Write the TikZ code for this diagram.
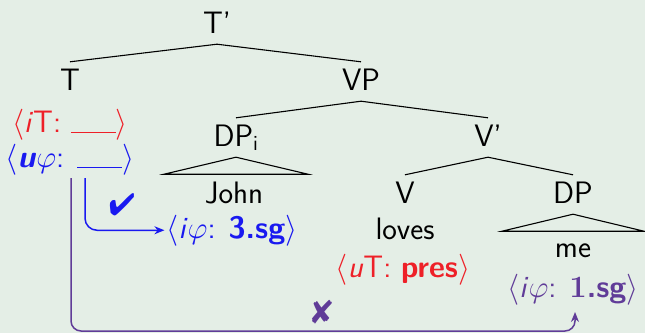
\RequirePackage{fix-cm}
\documentclass[tikz,border=0pt]{standalone}
\usepackage{fontspec}
\usepackage{pifont}
\usetikzlibrary{arrows.meta,calc}
\definecolor{bgc}{RGB}{228,238,230}
\definecolor{fred}{RGB}{238,32,40}
\definecolor{fblue}{RGB}{25,25,240}
\definecolor{fpurp}{RGB}{96,60,152}
\newcommand{\featblank}{\rule[-1pt]{45pt}{1.4pt}}
\begin{document}
\begin{tikzpicture}[x=1pt,y=-1pt,
  every node/.style={inner sep=0pt,anchor=base,font=\fontsize{31}{37}\selectfont\sffamily},
  cat/.style={text height=28pt,text depth=11pt},
  edge/.style={line width=1.1pt},
  link/.style={line width=1.5pt},
  tip/.style={-{Stealth[length=10pt,width=8pt]}},
]
\fill[bgc] (0,0) rectangle (645,333);
\useasboundingbox (0,0) rectangle (645,333);

% category labels
\node[cat] (Tp) at (217,33) {T’};
\node[cat] (T) at (70,90) {T};
\node[cat] (VP) at (361,90) {VP};
\node[cat] (DPi) at (236,146) {DP\textsubscript{i}};
\node[cat] (Vb) at (488,146) {V’};
\node[cat] (V) at (405,203) {V};
\node[cat] (DP) at (573,203) {DP};

% words
\node (John) at (234,203) {John};
\node (loves) at (405,239) {loves};
\node (me) at (573,257) {me};

% features
\node[text=fred] (iT) at (70,132) {$\langle$\textit{i}T: \featblank$\rangle$};
\node[text=fblue] (uphi) at (70,167) {$\langle$\textbf{\textit{u}}$\varphi$: \featblank$\rangle$};
\node[text=fblue] (iphi3) at (232,238) {$\langle$\textit{i}$\varphi$: \textbf{3.sg}$\rangle$};
\node[text=fred] (uT) at (403,277) {$\langle$\textit{u}T: \textbf{pres}$\rangle$};
\node[text=fpurp] (iphi1) at (573,297) {$\langle$\textit{i}$\varphi$: \textbf{{\rmfamily 1}.sg}$\rangle$};

% marks
\node[text=fblue,anchor=center,font=\fontsize{31}{36}\selectfont] (check) at (122,205) {\ding{52}};
\node[text=fpurp,anchor=center,font=\fontsize{33}{38}\selectfont] (cross) at (322,312) {\ding{56}};

% tree edges
\draw[edge] (Tp.south) -- (T.north);
\draw[edge] (Tp.south) -- (VP.north);
\draw[edge] (VP.south) -- (DPi.north);
\draw[edge] (VP.south) -- (Vb.north);
\draw[edge] (Vb.south) -- (V.north);
\draw[edge] (Vb.south) -- (DP.north);
\draw[edge] ($(DPi.south)+(-72,17)$) -- (DPi.south) -- ($(DPi.south)+(72,17)$) -- cycle;
\draw[edge] ($(DP.south)+(-71,17)$) -- (DP.south) -- ($(DP.south)+(71,17)$) -- cycle;

% agreement links
\coordinate (bs) at (85,178);
\draw[fblue,link,tip,rounded corners=12pt] (bs) |- ($(iphi3.west)+(-2,0)$);
\coordinate (ps) at (71,178);
\coordinate (pe) at (575,312);
\draw[fpurp,link,tip,rounded corners=10pt] (ps) -- (ps |- 0,331) -- (pe |- 0,331) -- (pe);
\end{tikzpicture}
\end{document}
